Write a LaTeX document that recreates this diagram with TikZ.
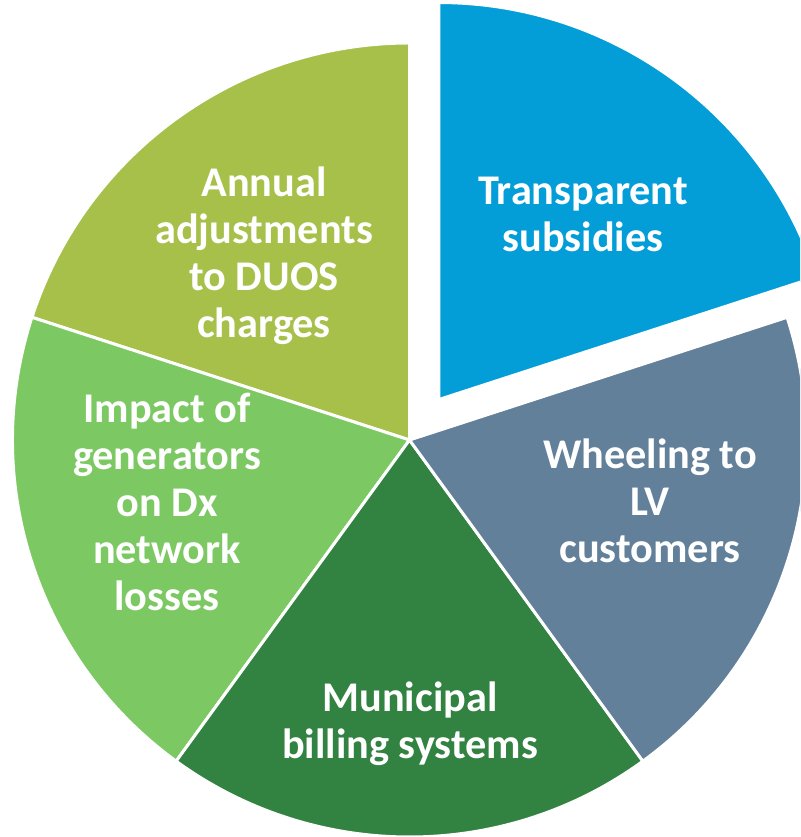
\documentclass[tikz,border=0pt]{standalone}
\usepackage{fontspec}
\setmainfont{Carlito}
\usetikzlibrary{calc}
\definecolor{cblue}{RGB}{3,158,216}
\definecolor{cslate}{RGB}{98,128,153}
\definecolor{cdark}{RGB}{50,130,65}
\definecolor{clight}{RGB}{124,201,99}
\definecolor{colive}{RGB}{166,192,74}
\begin{document}
\begin{tikzpicture}[x=1pt,y=1pt,
  slice/.style={draw=white,line width=3pt,line join=miter},
  lbl/.style={text=white,font=\fontsize{42.3}{47}\selectfont\bfseries,align=center,inner sep=0pt}]
\useasboundingbox (0,0) rectangle (800,837);
\clip (0,0) rectangle (800,837);
\def\R{397}
\coordinate (c) at (409.5,397);
\fill[colive,slice] (c) -- ++(90:\R) arc[start angle=90,end angle=162,radius=\R] -- cycle;
\fill[clight,slice] (c) -- ++(162:\R) arc[start angle=162,end angle=234,radius=\R] -- cycle;
\fill[cdark,slice] (c) -- ++(234:\R) arc[start angle=234,end angle=306,radius=\R] -- cycle;
\fill[cslate,slice] (c) -- ++(306:\R) arc[start angle=306,end angle=378,radius=\R] -- cycle;
\coordinate (cb) at ($(c)+(54:50)$);
\fill[cblue,slice] (cb) -- ++(18:\R) arc[start angle=18,end angle=90,radius=\R] -- cycle;
\node[lbl] (t1) at (583,623) {Transparent\\subsidies};
\node[lbl] (t2) at (650,336) {Wheeling to\\LV\\customers};
\node[lbl] (t3) at (410,113) {Municipal\\billing systems};
\node[lbl] (t4) at (167,335) {Impact of\\generators\\on Dx\\network\\losses};
\node[lbl] (t5) at (264,581) {Annual\\adjustments\\to DUOS\\charges};
\end{tikzpicture}
\end{document}
